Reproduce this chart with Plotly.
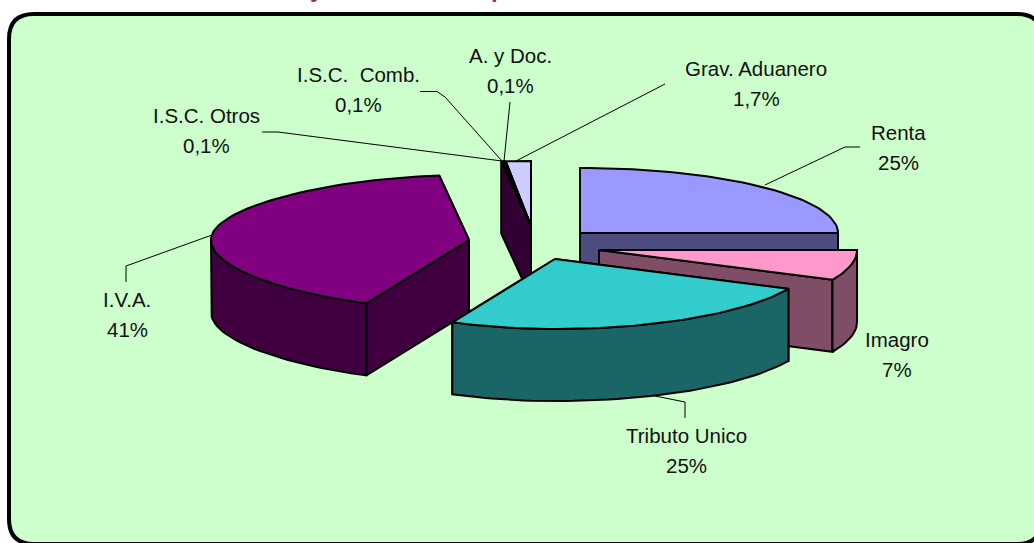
import math
import plotly.graph_objects as go

# ---- data ----
categories = ["Renta", "Imagro", "Tributo Unico", "I.V.A.", "I.S.C. Otros",
              "I.S.C.  Comb.", "A. y Doc.", "Grav. Aduanero"]
shares = [25, 7, 25, 41, 0.1, 0.1, 0.1, 1.7]
share_labels = ["25%", "7%", "25%", "41%", "0,1%", "0,1%", "0,1%", "1,7%"]

# ---- style and layout ----
TOP = ["#9999FF", "#FF99CC", "#33CCCC", "#800080", "#660066", "#0066CC", "#CCCCFF", "#CCCCFF"]
SIDE = ["#4D4D80", "#804D66", "#1A6666", "#400040", "#330033", "#330033", "#330033", "#330033"]
APEX = [(580, 233), (599, 250), (555, 259), (469, 240),
        (531, 226), (531, 226), (531, 226), (531, 226)]
RX, RY_BACK, RY_FRONT, DEPTH = 258, 65, 70, 72
START_DEG = -90
DRAW_ORDER = [7, 6, 5, 4, 0, 3, 1, 2]
LABEL_POS = [(898, 147), (897, 354), (686, 450), (127, 314),
             (206, 130), (358, 89), (510, 70), (756, 83)]
LINE_GAP = 15
LEADERS = [
    [(860, 147), (845, 147), (765, 185)],
    None,
    [(650, 395), (685, 402), (685, 418)],
    [(126, 282), (126, 266), (212, 235)],
    [(262, 132), (278, 132), (502, 161)],
    [(420, 91.5), (437, 91.5), (445, 97), (502, 161)],
    [(510, 102), (504, 161)],
    [(665, 84), (516, 161)],
]

fig = go.Figure()


def rim(i, deg):
    a = math.radians(deg)
    c, s = math.cos(a), math.sin(a)
    kx = 1 - 0.08 * s * s if c < 0 else 1
    return APEX[i][0] + RX * c * kx, APEX[i][1] + (RY_FRONT if s > 0 else RY_BACK) * s


def poly(pts, fill):
    fig.add_trace(go.Scatter(
        x=[p[0] for p in pts] + [pts[0][0]], y=[p[1] for p in pts] + [pts[0][1]],
        mode="lines", fill="toself", fillcolor=fill,
        line=dict(color="black", width=2), hoverinfo="skip", showlegend=False))


def down(pts):
    return [(x, y + DEPTH) for x, y in pts]


def sweep(i, d0, d1):
    n = max(2, int((d1 - d0) / 2) + 2)
    return [rim(i, d0 + (d1 - d0) * k / (n - 1)) for k in range(n)]


# slice angles follow from the shares
total = sum(shares)
angles, cur = [], START_DEG
for s in shares:
    angles.append((cur, cur + s / total * 360))
    cur += s / total * 360

# leader lines
for seg in LEADERS:
    if seg:
        fig.add_trace(go.Scatter(x=[p[0] for p in seg], y=[p[1] for p in seg], mode="lines",
                                 line=dict(color="black", width=1), hoverinfo="skip", showlegend=False))

# slices, back to front
for i in DRAW_ORDER:
    d0, d1 = angles[i]
    ap = APEX[i]
    faces = sorted([d0, d1], key=lambda d: math.sin(math.radians(d)))
    for d in faces:
        p = rim(i, d)
        poly([ap, p, (p[0], p[1] + DEPTH), (ap[0], ap[1] + DEPTH)], SIDE[i])
    w0, w1 = max(d0, 0), min(d1, 180)
    if w1 > w0:
        arc = sweep(i, w0, w1)
        poly(arc + down(arc)[::-1], SIDE[i])
    poly([ap] + sweep(i, d0, d1), TOP[i])

# labels: name and share on separate lines
FONT = dict(family="Liberation Sans", size=20.5, color="#111111")
for name, lab, (x, y) in zip(categories, share_labels, LABEL_POS):
    for txt, yy in ((name, y - LINE_GAP), (lab, y + LINE_GAP)):
        fig.add_annotation(x=x, y=yy, text=txt, showarrow=False, font=FONT,
                           xanchor="center", yanchor="middle")

# clipped title remnants at the top of the picture
for ch, x in (("y", 317), ("p", 498)):
    fig.add_annotation(x=x, y=4, text=ch, showarrow=False, yanchor="bottom", xanchor="center",
                       font=dict(family="Liberation Sans", size=24, color="#993366", weight="bold"))

fig.update_layout(
    width=1034, height=543, autosize=False,
    margin=dict(l=0, r=0, t=0, b=0),
    paper_bgcolor="white", plot_bgcolor="rgba(0,0,0,0)",
    xaxis=dict(range=[0, 1034], visible=False, fixedrange=True),
    yaxis=dict(range=[543, 0], visible=False, fixedrange=True),
    shapes=[dict(type="path", layer="below",
                 path="M 9 39 Q 9 14 34 14 L 1017 14 Q 1042 14 1042 39 L 1042 519 Q 1042 544 1017 544 "
                      "L 34 544 Q 9 544 9 519 Z",
                 fillcolor="#CCFFCC", line=dict(color="black", width=4))],
)
fig.write_html("out.html", post_script="document.body.style.margin='0';document.body.style.overflow='hidden';",
               config={"displayModeBar": False})
